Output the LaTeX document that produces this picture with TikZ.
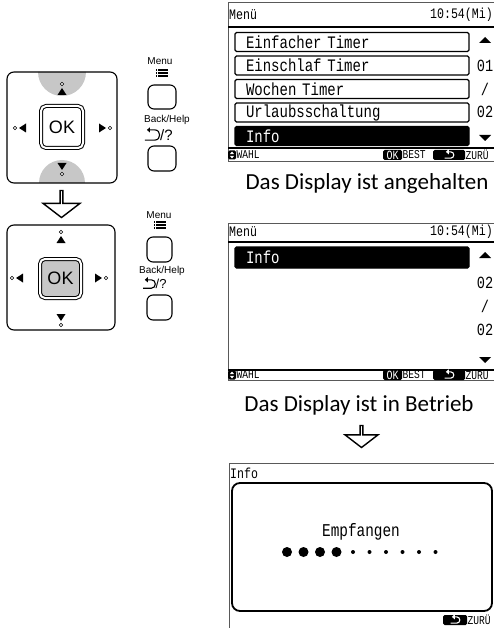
\documentclass[tikz,border=0pt]{standalone}
\usepackage{fontspec}
\setmainfont{Carlito}
\setsansfont{Liberation Sans}
\newfontfamily\lcd{Liberation Mono}[FakeStretch=0.8]
\usepackage{tikz}
\usetikzlibrary{arrows.meta,positioning,shapes.arrows}

\definecolor{padgray}{gray}{0.78}
\definecolor{framegray}{gray}{0.35}

\tikzset{
  navkey/.pic={
    \filldraw[fill=white, line width=0.6pt] (0,0) circle[radius=1.7];
    \fill (0,4) -- (-4.5,11) -- (4.5,11) -- cycle;
  },
  backsym/.pic={
    \draw[line width=1.1pt, -{Triangle[length=3pt,width=5pt]}]
      (-5,3.5) -- (2,3.5) to[out=0,in=0,looseness=1.6] (2,-3.5) -- (-3.5,-3.5);
  },
  menusym/.pic={
    \foreach \yy in {-3,0,3} {
      \fill (-6,{\yy-0.7}) rectangle (-4.6,{\yy+0.7});
      \fill (-3.6,{\yy-0.7}) rectangle (6,{\yy+0.7});
    }
  },
  scrtri/.pic={
    \fill (-6,3) -- (6,3) -- (0,-3) -- cycle;
  },
  footbar/.pic={
    \fill[rounded corners=1.5pt] (0,-4.5) rectangle (8,4.5);
    \fill[white] (4,-3.5) -- (1.8,-0.8) -- (6.2,-0.8) -- cycle;
    \fill[white] (4,3.5) -- (1.8,0.8) -- (6.2,0.8) -- cycle;
    \node (-wahl) [foottxt, anchor=west] at (8.5,0) {WAHL};
    \node (-ok) [footkey, minimum width=19pt] at (164.5,0) {OK};
    \node (-best) [foottxt, anchor=west] at (174.5,0) {BEST};
    \node (-back) [footkey, minimum width=32pt] at (221,0) {};
    \pic[white, scale=0.9] at (221,0) {backsym};
    \node (-zuru) [foottxt, anchor=west] at (237.5,0) {ZURÜ};
  }
}

\begin{document}
\begin{tikzpicture}[x=1pt,y=-1pt,>=latex,
  pad/.style={draw, line width=1.1pt, rounded corners=7pt, inner sep=0pt},
  padsel/.style={path picture={
      \fill[padgray] (path picture bounding box.north) circle[radius=24pt];
      \fill[padgray] (path picture bounding box.south) circle[radius=23pt];}},
  okkey/.style={draw, line width=1pt, double=white, double distance=2pt,
      rounded corners=5pt, fill=white, inner sep=0pt,
      font=\sffamily\fontsize{18}{18}\selectfont},
  key/.style={draw, line width=1.1pt, rounded corners=6pt, inner sep=0pt},
  keylbl/.style={inner sep=0pt, font=\sffamily\fontsize{10}{10}\selectfont},
  downarrow/.style={single arrow, draw, line width=1.4pt, fill=white,
      rotate=-90, inner sep=0pt, single arrow tip angle=105},
  scrframe/.style={draw=framegray, line width=0.8pt},
  hdrtxt/.style={inner sep=0pt, font=\lcd\fontsize{14.5}{14.5}\selectfont},
  lcdtxt/.style={inner sep=0pt, font=\lcd\fontsize{17}{17}\selectfont},
  menuitem/.style={draw, line width=1.1pt, rounded corners=1.5pt,
      minimum height=19pt, text width=212pt, inner xsep=11pt, inner ysep=0pt,
      align=left, font=\lcd\fontsize{17.5}{17.5}\selectfont},
  menusel/.style={menuitem, fill=black, text=white},
  foottxt/.style={inner sep=0pt, font=\lcd\fontsize{12}{12}\selectfont},
  footkey/.style={fill=black, text=white, rounded corners=1.5pt,
      minimum height=10pt, inner sep=0pt, font=\lcd\fontsize{12.5}{12.5}\selectfont},
  caption/.style={inner sep=0pt, font=\fontsize{23}{23}\selectfont}]

\useasboundingbox (0,0) rectangle (494,628);

% remote control, display off
\node (pad1) [pad, padsel, minimum width=110pt, minimum height=111pt] at (62,127.5) {};
\node (ok1) [okkey, minimum size=42pt] at (62,127) {OK};
\pic at (62,84) {navkey};
\pic[rotate=180] at (62,174) {navkey};
\pic[rotate=90] at (15,128) {navkey};
\pic[rotate=-90] at (110,128) {navkey};

\node (menulbl1) [keylbl] at (160,61) {Menu};
\pic at (162,73) {menusym};
\node (menu1) [key, minimum width=28pt, minimum height=24pt] at (162,97) {};
\node (backlbl1) [keylbl] at (167,120) {Back/Help};
\pic[scale=1.45] at (152,135) {backsym};
\node (help1) [keylbl, anchor=west, font=\sffamily\fontsize{15}{15}\selectfont] at (160,135) {/?};
\node (back1) [key, minimum width=28pt, minimum height=25pt] at (162,158.5) {};

\node (arr1) [downarrow, minimum width=37pt, minimum height=27pt,
  single arrow head extend=8.5pt] at (61.5,203.5) {};

% remote control, display on
\node (pad2) [pad, minimum width=108pt, minimum height=105pt] at (61,277.5) {};
\node (ok2) [okkey, fill=padgray, minimum width=41pt, minimum height=39pt] at (60.5,278.5) {OK};
\pic at (61,232) {navkey};
\pic[rotate=180] at (61,325) {navkey};
\pic[rotate=90] at (12,278) {navkey};
\pic[rotate=-90] at (106,278) {navkey};

\node (menulbl2) [keylbl] at (159,215) {Menu};
\pic at (160,225) {menusym};
\node (menu2) [key, minimum width=25pt, minimum height=25pt] at (159.5,249.5) {};
\node (backlbl2) [keylbl] at (162,271) {Back/Help};
\pic[scale=1.2] at (149,284) {backsym};
\node (help2) [keylbl, anchor=west, font=\sffamily\fontsize{13}{13}\selectfont] at (155.5,284) {/?};
\node (back2) [key, minimum width=25pt, minimum height=25pt] at (159.5,307.5) {};

% screen 1
\draw[scrframe] (228,2) rectangle (497,161);
\node (hdr1) [hdrtxt, anchor=west] at (229,15) {Menü};
\node (time1) [hdrtxt, anchor=east] at (493,15) {10:54(Mi)};
\draw[line width=1.6pt] (228,27) -- (497,27);
\foreach \t [count=\i] in {Einfacher Timer, Einschlaf Timer, Wochen Timer, Urlaubsschaltung}
  \node (item\i) [menuitem] at (352,{42+23.5*(\i-1)}) {\t};
\node (item5) [menusel] at (352,136) {Info};
\pic at (485,40) {scrtri};
\node (pg1a) [lcdtxt] at (485,66) {01};
\node (pg1b) [lcdtxt] at (485,89) {/};
\node (pg1c) [lcdtxt] at (485,112) {02};
\pic[rotate=180] at (485,138) {scrtri};
\draw[line width=1.6pt] (228,148) -- (497,148);
\pic (f1) at (228,155) {footbar};
\node (cap1) [caption] at (367,183) {Das Display ist angehalten};

% screen 2
\draw[scrframe] (228,223) rectangle (497,380);
\node (hdr2) [hdrtxt, anchor=west] at (229,232) {Menü};
\node (time2) [hdrtxt, anchor=east] at (493,232) {10:54(Mi)};
\draw[line width=1.6pt] (228,242) -- (497,242);
\node (sel2) [menusel, minimum height=21pt] at (352,257.5) {Info};
\pic at (485,255) {scrtri};
\node (pg2a) [lcdtxt] at (485,283) {02};
\node (pg2b) [lcdtxt] at (485,306) {/};
\node (pg2c) [lcdtxt] at (485,330) {02};
\pic[rotate=180] at (485,360) {scrtri};
\draw[line width=1.6pt] (228,370) -- (497,370);
\pic (f2) at (228,375) {footbar};
\node (cap2) [caption] at (359,405) {Das Display ist in Betrieb};

\node (arr2) [downarrow, minimum width=33pt, minimum height=22pt,
  single arrow head extend=8pt] at (361.5,436) {};

% screen 3
\draw[scrframe] (229,463) rectangle (497,632);
\node (hdr3) [hdrtxt, anchor=west] at (230,473) {Info};
\node (msgbox) [draw, line width=1.8pt, rounded corners=8pt,
  minimum width=260pt, minimum height=128pt] at (362,547) {};
\node (recv) [lcdtxt, font=\lcd\fontsize{18}{18}\selectfont] at (361,532) {Empfangen};
\foreach \k in {0,...,3}
  \fill ({287+16.5*\k},552) circle[radius=5];
\foreach \k in {4,...,9}
  \fill ({287+16.5*\k},552) circle[radius=2];
\node (back3) [footkey, minimum width=24pt] at (455,620) {};
\pic[white, scale=0.9] at (455,620) {backsym};
\node (zuru3) [foottxt, anchor=west] at (467.5,620) {ZURÜ};

\end{tikzpicture}
\end{document}
